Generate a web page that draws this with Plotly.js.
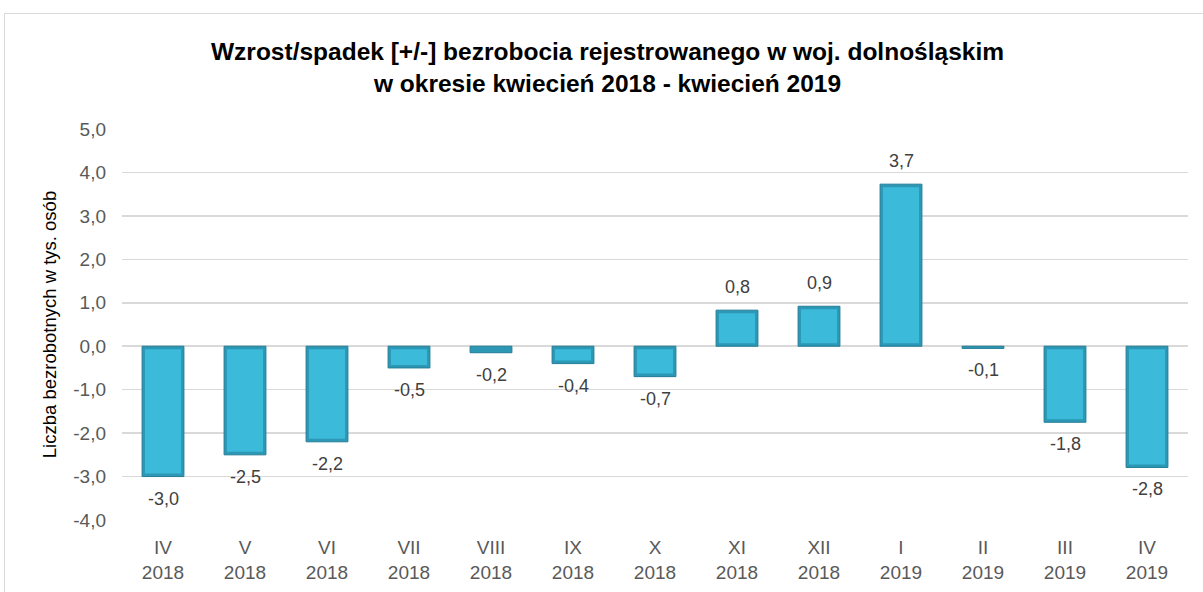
<!DOCTYPE html>
<html>
<head>
<meta charset="utf-8">
<script src="https://cdn.plot.ly/plotly-3.0.1.min.js"></script>
<style>
  html, body { margin: 0; padding: 0; background: #ffffff; }
  #frame { position: absolute; left: 4px; top: 13px; width: 1220px; height: 600px; border: 1.5px solid #d9d9d9; box-sizing: border-box; }
  #chart { position: absolute; left: 0; top: 0; width: 1203px; height: 592px; }
</style>
</head>
<body>
<div id="frame"></div>
<div id="chart"></div>
<script>
const months = ["IV", "V", "VI", "VII", "VIII", "IX", "X", "XI", "XII", "I", "II", "III", "IV"];
const years = ["2018", "2018", "2018", "2018", "2018", "2018", "2018", "2018", "2018", "2019", "2019", "2019", "2019"];
const values = [-3.0, -2.5, -2.2, -0.5, -0.15, -0.4, -0.7, 0.83, 0.92, 3.73, -0.05, -1.75, -2.79];
const labels = ["-3,0", "-2,5", "-2,2", "-0,5", "-0,2", "-0,4", "-0,7", "0,8", "0,9", "3,7", "-0,1", "-1,8", "-2,8"];
const yTicks = [-4, -3, -2, -1, 0, 1, 2, 3, 4, 5];
const yTickText = ["-4,0", "-3,0", "-2,0", "-1,0", "0,0", "1,0", "2,0", "3,0", "4,0", "5,0"];

const cats = months.map((m, i) => m + "<br>" + years[i]);
const font = "'Liberation Sans', Arial, sans-serif";

// bevel effect: an inner, lighter bar inset inside each darker outer bar
const inset = 0.07;
const innerBase = values.map(v => Math.abs(v) > 2.5 * inset ? Math.sign(v) * inset : 0);
const innerLen = values.map(v => Math.abs(v) > 2.5 * inset ? v - Math.sign(v) * 2 * inset : 0);

const outer = {
  type: "bar",
  x: cats,
  y: values,
  width: 0.51,
  marker: { color: "#2c98b6", line: { color: "#217d96", width: 1 } },
  hoverinfo: "skip"
};

const inner = {
  type: "bar",
  x: cats,
  y: innerLen,
  base: innerBase,
  width: 0.44,
  marker: { color: "#3bbada", line: { width: 0 } },
  hoverinfo: "skip"
};

const annotations = values.map((v, i) => ({
  x: cats[i],
  y: v,
  xref: "x",
  yref: "y",
  text: labels[i],
  showarrow: false,
  yanchor: "middle",
  yshift: v >= 0 ? 23 : -22,
  font: { family: font, size: 18, color: "#404040" }
}));

const layout = {
  width: 1203,
  height: 592,
  paper_bgcolor: "rgba(0,0,0,0)",
  plot_bgcolor: "rgba(0,0,0,0)",
  separators: ", ",
  barmode: "overlay",
  margin: { l: 122, r: 15, t: 129, b: 72 },
  showlegend: false,
  annotations: annotations,
  title: {
    text: "<b>Wzrost/spadek [+/-] bezrobocia rejestrowanego w woj. dolnośląskim<br>w okresie kwiecień 2018 - kwiecień 2019</b>",
    font: { family: font, size: 24.5, color: "#000000" },
    x: 0.505, xref: "container", xanchor: "center",
    y: 1 - 60 / 592, yref: "container", yanchor: "middle"
  },
  xaxis: {
    type: "category",
    range: [-0.5, 12.5],
    showgrid: false,
    showline: false,
    zeroline: false,
    ticks: "",
    ticklabelstandoff: 14,
    tickfont: { family: font, size: 19, color: "#595959" },
    fixedrange: true
  },
  yaxis: {
    range: [-4, 5],
    tickvals: yTicks,
    ticktext: yTickText,
    showgrid: true,
    gridcolor: "#d9d9d9",
    gridwidth: 1.5,
    zeroline: false,
    showline: false,
    ticks: "",
    ticklabelstandoff: 15,
    tickfont: { family: font, size: 19, color: "#595959" },
    title: {
      text: "Liczba bezrobotnych w tys. osób",
      font: { family: font, size: 18.5, color: "#000000" },
      standoff: 11
    },
    automargin: false,
    fixedrange: true
  }
};

Plotly.newPlot("chart", [outer, inner], layout, { displayModeBar: false, staticPlot: true });
</script>
</body>
</html>
